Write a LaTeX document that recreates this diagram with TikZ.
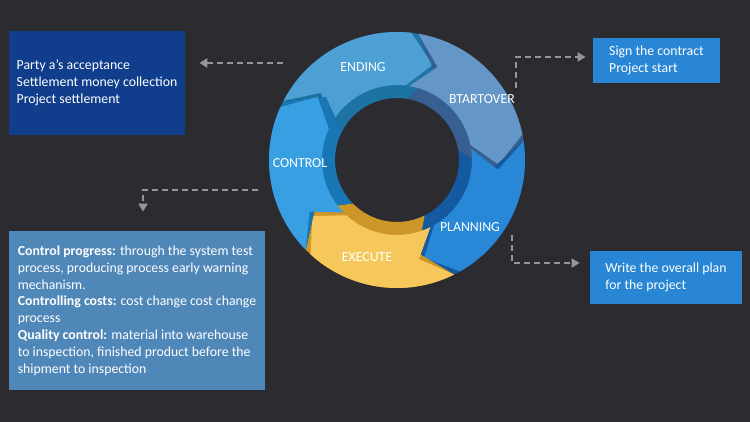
\documentclass[tikz,border=0pt]{standalone}
\usepackage{fontspec}
\setmainfont{Carlito}
\usetikzlibrary{positioning, calc, arrows.meta}
\definecolor{bgDark}{RGB}{43, 43, 48}
\definecolor{boxNavy}{RGB}{16, 62, 140}
\definecolor{boxBlue}{RGB}{40, 134, 212}
\definecolor{boxSteel}{RGB}{80, 135, 185}
\definecolor{dashGray}{RGB}{150, 150, 150}
\definecolor{endFace}{RGB}{76, 160, 212}
\definecolor{endSide}{RGB}{30, 115, 165}
\definecolor{startFace}{RGB}{100, 150, 200}
\definecolor{startSide}{RGB}{55, 95, 145}
\definecolor{planFace}{RGB}{40, 135, 215}
\definecolor{planSide}{RGB}{20, 90, 160}
\definecolor{execFace}{RGB}{246, 200, 92}
\definecolor{execSide}{RGB}{205, 150, 40}
\definecolor{ctrlFace}{RGB}{56, 160, 226}
\definecolor{ctrlSide}{RGB}{25, 118, 180}
\tikzset{
    base/.style={
        font=\fontsize{6.9}{8.4}\selectfont,
        text=white
    },
    infobox/.style={
        base,
        rectangle,
        align=left,
        inner sep=0pt
    },
    steplabel/.style={
        font=\fontsize{6.9}{8}\selectfont,
        text=white,
        inner sep=0pt
    },
    flow/.style={
        -{Triangle[length=4pt, width=4.5pt]},
        dashGray,
        line width=1pt,
        dash pattern=on 3pt off 2pt
    }
}
% one chevron piece of the ring: start angle, end angle, inner r, outer R, colour
\newcommand{\ringseg}[5]{%
    \pgfmathsetmacro{\segMid}{(#3+#4)/2}
    \fill[#5] (#1:#4) arc[start angle=#1, end angle=#2, radius=#4]
        -- ({#2-14}:\segMid) -- (#2:#3)
        arc[start angle=#2, end angle=#1, radius=#3]
        -- ({#1-14}:\segMid) -- cycle;
}

\begin{document}
\begin{tikzpicture}[x=0.5pt, y=0.5pt]
    % Background
    \fill[bgDark] (0,0) rectangle (750,422);
    \useasboundingbox (0,0) rectangle (750,422);

    % Ring
    \begin{scope}[shift={(397,262)}]
        \ringseg{152.5}{80.5}{62}{128}{endSide}
        \ringseg{152.5}{83.5}{75}{128}{endFace}
        \ringseg{80.5}{8.5}{62}{128}{startSide}
        \ringseg{80.5}{11.5}{75}{128}{startFace}
        \ringseg{8.5}{-63.5}{62}{128}{planSide}
        \ringseg{8.5}{-60.5}{75}{128}{planFace}
        \ringseg{-63.5}{-135.5}{62}{128}{execSide}
        \ringseg{-63.5}{-132.5}{75}{128}{execFace}
        \ringseg{-135.5}{-207.5}{62}{128}{ctrlSide}
        \ringseg{-135.5}{-204.5}{75}{128}{ctrlFace}
    \end{scope}

    % Step names
    \node[steplabel] (ending) at (363,355) {ENDING};
    \node[steplabel] (startover) at (482,323) {BTARTOVER};
    \node[steplabel] (planning) at (470,195) {PLANNING};
    \node[steplabel] (execute) at (367,165) {EXECUTE};
    \node[steplabel] (control) at (300,259) {CONTROL};

    % Boxes
    \node[infobox, fill=boxNavy, minimum width=88pt, minimum height=52pt] (partyBox) at (97,339) {
        Party a's acceptance\\
        Settlement money collection\\
        Project settlement
    };
    \node[infobox, fill=boxBlue, minimum width=63.5pt, minimum height=22.5pt] (signBox) at (656.5,361.5) {
        Sign the contract\\
        Project start
    };
    \node[infobox, fill=boxBlue, minimum width=76pt, minimum height=26.5pt] (writeBox) at (666,144.5) {
        Write the overall plan\\
        for the project
    };
    \node[infobox, fill=boxSteel, minimum width=128pt, minimum height=79.5pt] (ctrlBox) at (137,111.5) {
        \textbf{Control progress:} through the system test\\
        process, producing process early warning\\
        mechanism.\\
        \textbf{Controlling costs:} cost change cost change\\
        process\\
        \textbf{Quality control:} material into warehouse\\
        to inspection, finished product before the\\
        shipment to inspection
    };

    % Dashed links
    \coordinate (endTail) at (283,359);
    \coordinate (startTail) at (516,334);
    \coordinate (planTail) at (512,187);
    \coordinate (ctrlTail) at (258,232);
    \draw[flow, shorten >=7pt] (endTail) -- (endTail -| partyBox.east);
    \draw[flow, shorten >=3.5pt] (startTail) |- ([yshift=1.75pt]signBox.west);
    \draw[flow, shorten >=5pt] (planTail) |- ([yshift=7.25pt]writeBox.west);
    \draw[flow, shorten >=9.5pt] (ctrlTail) -| ([xshift=3pt]ctrlBox.north);

\end{tikzpicture}
\end{document}
